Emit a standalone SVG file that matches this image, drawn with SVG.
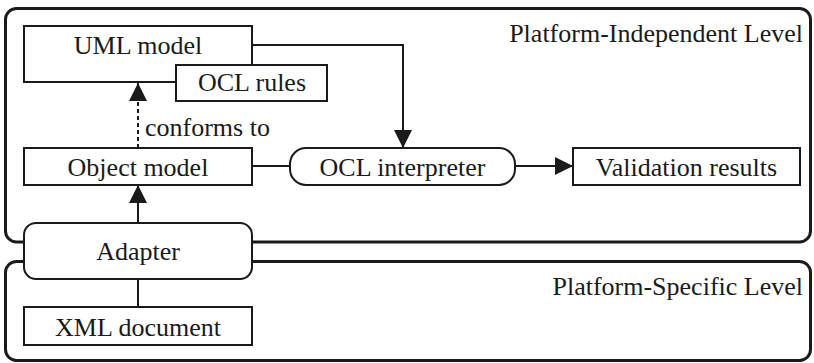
<svg xmlns="http://www.w3.org/2000/svg" width="814" height="363" viewBox="0 0 814 363">
<style>
text{font-family:"Liberation Serif","DejaVu Serif",serif;font-size:26px;fill:#1a1a1a}
.c{text-anchor:middle}
.r{text-anchor:end}
.lvl{fill:#fff;stroke:#1a1a1a;stroke-width:3}
.box{fill:#fff;stroke:#1a1a1a;stroke-width:2}
.ln{fill:none;stroke:#1a1a1a;stroke-width:2}
.dash{fill:none;stroke:#1a1a1a;stroke-width:2;stroke-dasharray:4 3}
</style>
<defs>
<marker id="ah" viewBox="0 0 18 18" refX="18" refY="9" markerWidth="18" markerHeight="18" markerUnits="userSpaceOnUse" orient="auto">
<path d="M0,0 L18,9 L0,18 Z" fill="#1a1a1a"/>
</marker>
</defs>
<g id="platform-independent">
<rect class="lvl" x="5.5" y="8.5" width="805" height="233.5" rx="11"/>
<text class="r" x="803" y="42" font-family="Liberation Serif, serif">Platform-Independent Level</text>
</g>
<g id="platform-specific">
<rect class="lvl" x="5.5" y="261.5" width="805" height="99" rx="11"/>
<text class="r" x="803" y="295">Platform-Specific Level</text>
</g>
<g id="connectors">
<polyline class="ln" points="252,45 403,45 403,148" marker-end="url(#ah)"/>
<line class="dash" x1="138" y1="148" x2="138" y2="83" marker-end="url(#ah)"/>
<line class="ln" x1="138" y1="223" x2="138" y2="185" marker-end="url(#ah)"/>
<line class="ln" x1="252" y1="166" x2="290" y2="166"/>
<line class="ln" x1="515" y1="166" x2="573" y2="166" marker-end="url(#ah)"/>
<line class="ln" x1="138" y1="279" x2="138" y2="307"/>
<text x="145" y="136">conforms to</text>
</g>
<g id="uml-model">
<rect class="box" x="24" y="26" width="228" height="56"/>
<text class="c" x="138" y="54">UML model</text>
</g>
<g id="ocl-rules">
<rect class="box" x="176" y="65" width="151" height="36"/>
<text class="c" x="252" y="91">OCL rules</text>
</g>
<g id="object-model">
<rect class="box" x="24" y="148" width="228" height="37"/>
<text class="c" x="138" y="176">Object model</text>
</g>
<g id="ocl-interpreter">
<rect class="box" x="290" y="148" width="225" height="37" rx="16"/>
<text class="c" x="402.5" y="176">OCL interpreter</text>
</g>
<g id="validation-results">
<rect class="box" x="573" y="148" width="227" height="37"/>
<text class="c" x="686.5" y="176">Validation results</text>
</g>
<g id="adapter">
<rect class="box" x="24" y="223" width="228" height="56" rx="12"/>
<text class="c" x="138" y="260">Adapter</text>
</g>
<g id="xml-document">
<rect class="box" x="24" y="307" width="228" height="38"/>
<text class="c" x="138" y="336">XML document</text>
</g>
</svg>
